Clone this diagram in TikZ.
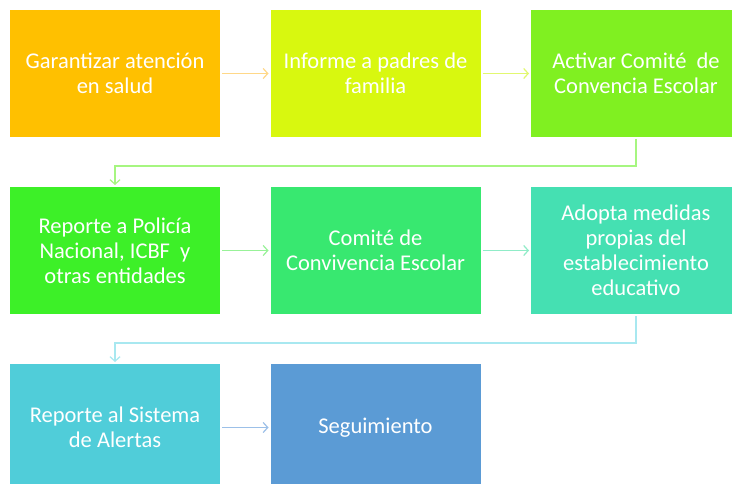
\documentclass[tikz,border=0pt]{standalone}
\usepackage{fontspec}
\setmainfont{Carlito}
\usetikzlibrary{arrows.meta}
\definecolor{cA}{HTML}{FFC000}
\definecolor{cB}{HTML}{D8F80F}
\definecolor{cC}{HTML}{80F021}
\definecolor{cD}{HTML}{3DF028}
\definecolor{cE}{HTML}{38E870}
\definecolor{cF}{HTML}{45E0B2}
\definecolor{cG}{HTML}{50CDD9}
\definecolor{cH}{HTML}{5B9BD5}
\definecolor{aA}{HTML}{FFD888}
\definecolor{aB}{HTML}{E2F870}
\definecolor{aC}{HTML}{A6F680}
\definecolor{aD}{HTML}{98F298}
\definecolor{aE}{HTML}{90ECC8}
\definecolor{aF}{HTML}{A8E8F0}
\definecolor{aG}{HTML}{9CC0E8}
\begin{document}
\begin{tikzpicture}[x=1pt,y=-1pt,
  boxstyle/.style={rectangle, anchor=north west, inner sep=0pt, outer sep=0pt,
    minimum width=210pt, minimum height=127pt, text=white, align=center,
    font=\fontsize{22.5}{25}\selectfont},
  flow/.style={line width=1.3pt, -{Straight Barb[length=4.5pt,width=10pt,line width=1.2pt]},
    shorten >=2pt, shorten <=2pt}]
\useasboundingbox (0,0) rectangle (732,484);
\fill[white] (0,0) rectangle (732,484);
\node[boxstyle, fill=cA] (b1) at (10,10) {Garantizar atención\\en salud};
\node[boxstyle, fill=cB] (b2) at (270.5,10) {Informe a padres de\\familia};
\node[boxstyle, fill=cC] (b3) at (531,10) {Activar Comité\ \ de\\Convencia Escolar};
\node[boxstyle, fill=cD] (b4) at (10,187) {Reporte a Policía\\Nacional, ICBF\ \ y\\otras entidades};
\node[boxstyle, fill=cE] (b5) at (270.5,187) {Comité de\\Convivencia Escolar};
\node[boxstyle, fill=cF] (b6) at (531,187) {Adopta medidas\\propias del\\establecimiento\\educativo};
\node[boxstyle, fill=cG] (b7) at (10,364) {Reporte al Sistema\\de Alertas};
\node[boxstyle, fill=cH] (b8) at (270.5,364) {Seguimiento};
\coordinate (k1) at (0,166);
\coordinate (k2) at (0,343);
\draw[flow, draw=aA] (b1.east) -- (b2.west);
\draw[flow, draw=aB] (b2.east) -- (b3.west);
\draw[flow, draw=aC] (b3.south) -- (b3.south |- k1) -| (b4.north);
\draw[flow, draw=aD] (b4.east) -- (b5.west);
\draw[flow, draw=aE] (b5.east) -- (b6.west);
\draw[flow, draw=aF] (b6.south) -- (b6.south |- k2) -| (b7.north);
\draw[flow, draw=aG] (b7.east) -- (b8.west);
\end{tikzpicture}
\end{document}
